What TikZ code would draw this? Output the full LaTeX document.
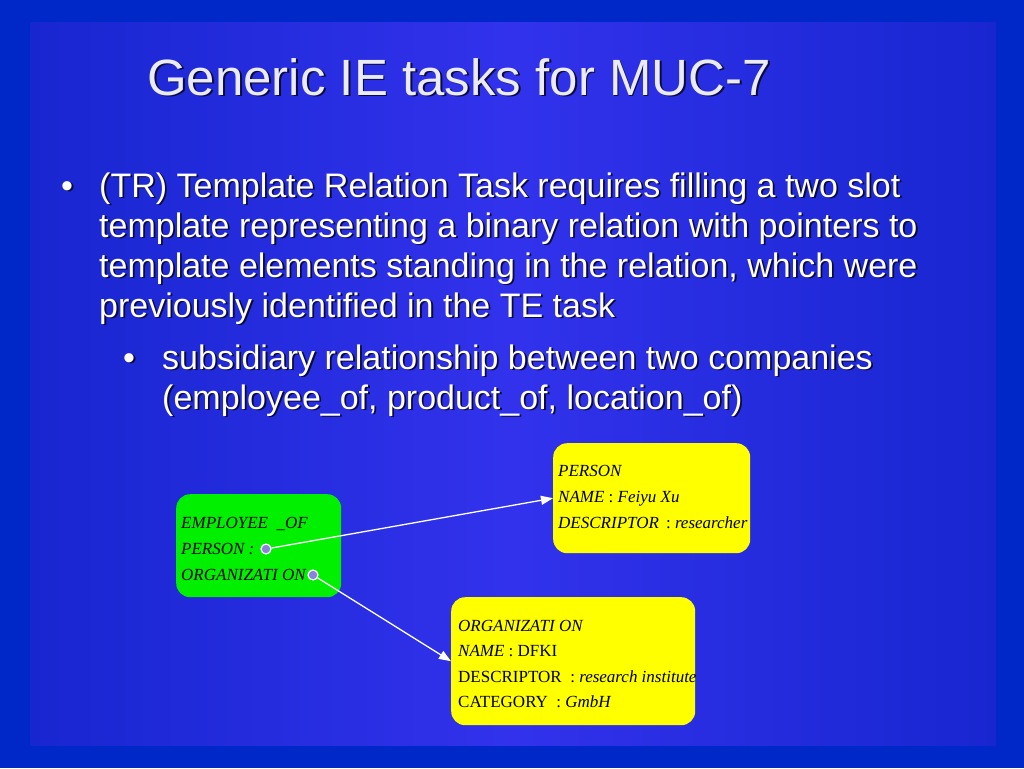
\documentclass[tikz,border=0pt]{standalone}
\usepackage{fontspec}
\setmainfont{Liberation Serif}
\newfontfamily\arialf{Liberation Sans}
\usetikzlibrary{arrows.meta}
\definecolor{outerbg}{RGB}{0,40,200}
\definecolor{edgebg}{RGB}{24,38,208}
\definecolor{midbg}{RGB}{50,50,236}
\definecolor{greenbox}{RGB}{0,240,0}
\definecolor{yellowbox}{RGB}{255,255,0}
\definecolor{dotfill}{RGB}{140,130,220}
\definecolor{shadowc}{RGB}{10,10,60}
\definecolor{titlec}{RGB}{235,235,245}
\tikzset{
  titlef/.style={font=\arialf\fontsize{51}{60}\selectfont, anchor=base west, inner sep=0pt, text=titlec},
  bodyf/.style={font=\arialf\fontsize{34}{40}\selectfont, anchor=base west, inner sep=0pt, text=white},
  shad/.style={text=shadowc, xshift=1.8pt, yshift=-1.8pt},
  boxf/.style={font=\fontsize{17}{19}\selectfont, anchor=base west, inner sep=0pt, text=black},
  gbox/.style={fill=greenbox, rounded corners=14pt, anchor=north west, inner sep=0pt},
  ybox/.style={fill=yellowbox, rounded corners=14pt, anchor=north west, inner sep=0pt},
  dotnode/.style={circle, fill=dotfill, draw=white, line width=1.2pt, minimum size=10pt, inner sep=0pt},
  link/.style={draw=white, line width=1.3pt, -{Triangle[length=12pt,width=9pt]}}
}
\newcommand\shnode[4]{%
  \node[#1,shad] (#2s) at #3 {#4};
  \node[#1] (#2) at #3 {#4};}
\begin{document}
\begin{tikzpicture}[x=1pt,y=-1pt]
\useasboundingbox (0,0) rectangle (1024,768);
\fill[outerbg] (0,0) rectangle (1024,768);
\shade[left color=edgebg, right color=edgebg, middle color=midbg] (30,23) rectangle (996,745);

% title
\shnode{titlef}{title}{(147,95)}{Generic IE tasks for MUC-7}

% bullets level 1
\shnode{bodyf}{b1}{(61,197)}{\textbullet}
\shnode{bodyf}{l1}{(99,197)}{(TR) Template Relation Task requires filling a two slot}
\shnode{bodyf}{l2}{(99,237)}{template representing a binary relation with pointers to}
\shnode{bodyf}{l3}{(99,277)}{template elements standing in the relation, which were}
\shnode{bodyf}{l4}{(99,317)}{previously identified in the TE task}
% level 2
\shnode{bodyf}{b2}{(123,369)}{\textbullet}
\shnode{bodyf}{m1}{(162,369)}{subsidiary relationship between two companies}
\shnode{bodyf}{m2}{(162,409)}{(employee\_of, product\_of, location\_of)}

% boxes
\node[gbox, minimum width=165pt, minimum height=103pt] (gb) at (176,494) {};
\node[ybox, minimum width=197pt, minimum height=110pt] (yb1) at (553,443) {};
\node[ybox, minimum width=244pt, minimum height=128pt] (yb2) at (451,597) {};

% green box text
\node[boxf] (g1) at (181,528) {\textit{EMPLOYEE \ \_OF}};
\node[boxf] (g2) at (181,554) {\textit{PERSON :}};
\node[boxf] (g3) at (181,580) {\textit{ORGANIZATI ON :}};

% yellow box 1 text
\node[boxf] (p1) at (558,476) {\textit{PERSON}};
\node[boxf] (p2) at (558,502) {\textit{NAME} : \textit{Feiyu Xu}};
\node[boxf] (p3) at (558,528) {\textit{DESCRIPTOR} \,: \textit{researcher}};

% yellow box 2 text
\node[boxf] (o1) at (458,631) {\textit{ORGANIZATI ON}};
\node[boxf] (o2) at (458,656) {\textit{NAME} : DFKI};
\node[boxf] (o3) at (458,682) {DESCRIPTOR \ : \textit{research institute}};
\node[boxf] (o4) at (458,707) {CATEGORY \ : \textit{GmbH}};

% dots and links
\node[dotnode] (d1) at (266,549) {};
\node[dotnode] (d2) at (313,575) {};
\draw[link] (d1) -- (yb1.west);
\draw[link] (d2) -- (yb2.west);
\end{tikzpicture}
\end{document}
